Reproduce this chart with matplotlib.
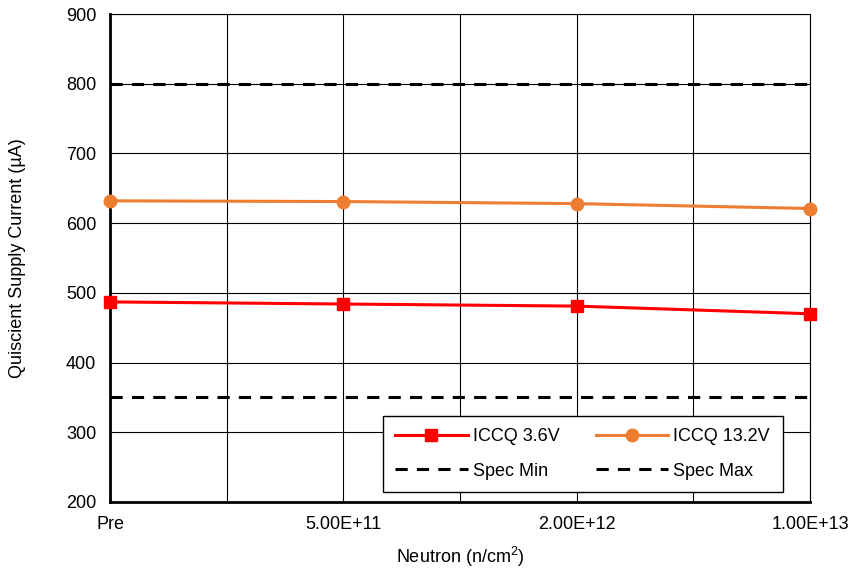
import matplotlib

matplotlib.use("Agg")
import matplotlib.pyplot as plt
import numpy as np

plt.rcParams["font.family"] = ["Liberation Sans", "DejaVu Sans"]

categories = ["Pre", "5.00E+11", "2.00E+12", "1.00E+13"]
iccq_36 = [487, 484, 481, 470]
iccq_132 = [632, 631, 628, 621]
spec_min = 350
spec_max = 800

C_RED, C_ORANGE = "#ff0000", "#ed7d31"

fig = plt.figure(figsize=(8.53, 5.72), dpi=100)
ax = fig.add_axes([0.129, 0.1224, 0.8206, 0.8531])

x = np.arange(len(categories)) * 2
l1, = ax.plot(x, iccq_36, color=C_RED, lw=2.2, marker="s", ms=9, label="ICCQ 3.6V", zorder=4, clip_on=False)
l2, = ax.plot(x, iccq_132, color=C_ORANGE, lw=2.2, marker="o", ms=9, label="ICCQ 13.2V", zorder=4, clip_on=False)
l3, = ax.plot([x[0], x[-1]], [spec_min] * 2, color="black", lw=2.2, ls=(0, (4, 3)), label="Spec Min", zorder=3)
l4, = ax.plot([x[0], x[-1]], [spec_max] * 2, color="black", lw=2.2, ls=(0, (4, 3)), label="Spec Max", zorder=3)

ax.set_xlim(0, 6)
ax.set_ylim(200, 900)
ax.set_xticks(x)
ax.set_xticklabels(categories)
ax.set_xticks(np.arange(0, 7), minor=True)
ax.set_yticks(np.arange(200, 901, 100))
ax.grid(True, which="both", axis="x", color="black", lw=0.8)
ax.grid(True, axis="y", color="black", lw=0.8)
ax.tick_params(which="both", length=0, labelsize=13, pad=10)
for s in ("top", "right"):
    ax.spines[s].set_linewidth(0.8)
ax.spines["left"].set_linewidth(2)
ax.spines["bottom"].set_linewidth(2)

ax.set_ylabel("Quiscient Supply Current (µA)", fontsize=13)
ax.yaxis.set_label_coords(-0.12, 0.5)
ax.set_xlabel(r"Neutron (n/cm$\mathregular{^2}$)", fontsize=13)
ax.xaxis.set_label_coords(0.5, -0.088)

leg = ax.legend([l1, l3, l2, l4], ["ICCQ 3.6V", "Spec Min", "ICCQ 13.2V", "Spec Max"],
                ncol=2, loc="lower right", bbox_to_anchor=(0.961, 0.02), borderaxespad=0,
                fontsize=13, frameon=True, fancybox=False, edgecolor="black", framealpha=1,
                handlelength=4.0, handletextpad=0.3, columnspacing=2.0, labelspacing=0.95,
                borderpad=0.7)
leg.get_frame().set_linewidth(1.0)

fig.savefig("out.png", dpi=100, facecolor="white")
